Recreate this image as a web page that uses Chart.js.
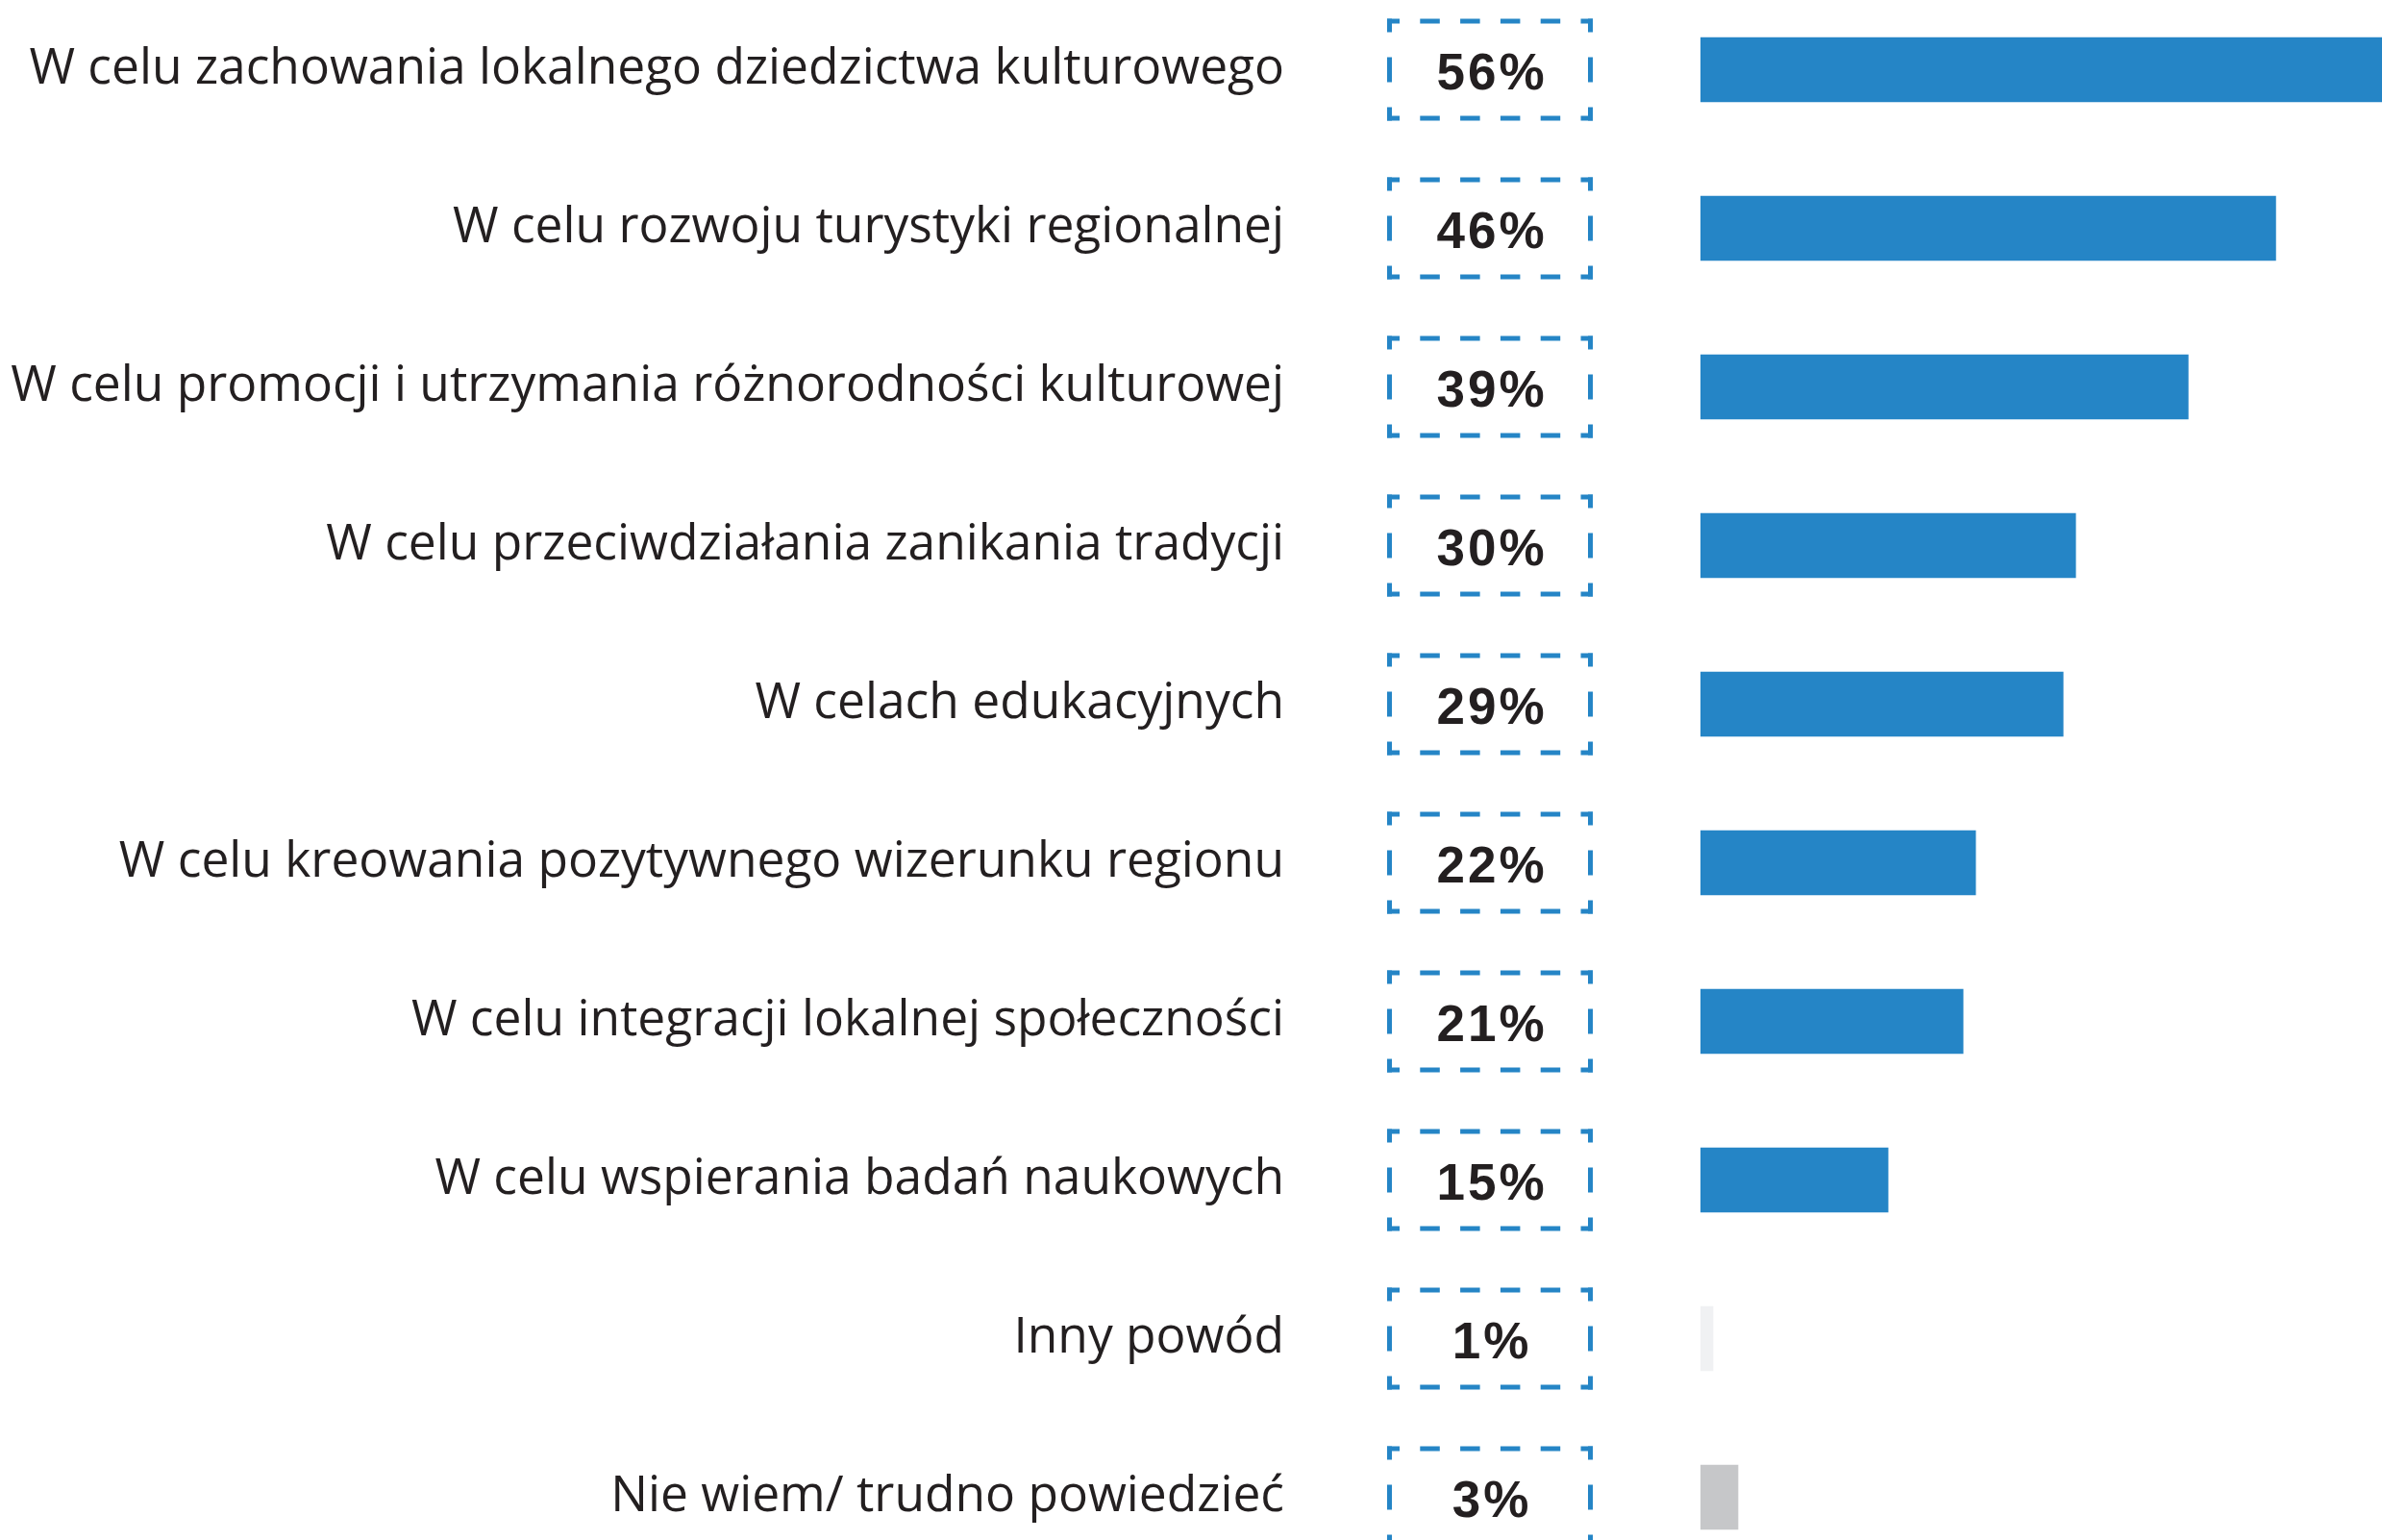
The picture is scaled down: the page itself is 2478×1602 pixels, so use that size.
<!DOCTYPE html>
<html lang="pl">
<head>
<meta charset="utf-8">
<title>Powody</title>
<script src="https://cdn.jsdelivr.net/npm/chart.js@4.4.1/dist/chart.umd.min.js"></script>
<style>
  html, body { margin: 0; padding: 0; background: #fff; overflow: hidden; }
  body { width: 2478px; height: 1602px; position: relative; }
  #chart { position: absolute; left: 0; top: -10px; }
</style>
</head>
<body>
<canvas id="chart" width="2478" height="1650"></canvas>
<script>
// Reasons, share of answers in %
const CATEGORIES = [
  'W celu zachowania lokalnego dziedzictwa kulturowego',
  'W celu rozwoju turystyki regionalnej',
  'W celu promocji i utrzymania różnorodności kulturowej',
  'W celu przeciwdziałania zanikania tradycji',
  'W celach edukacyjnych',
  'W celu kreowania pozytywnego wizerunku regionu',
  'W celu integracji lokalnej społeczności',
  'W celu wspierania badań naukowych',
  'Inny powód',
  'Nie wiem/ trudno powiedzieć'
];
const VALUES = [56, 46, 39, 30, 29, 22, 21, 15, 1, 3];

const BLUE = '#2585c6';
const BAR_COLORS = [BLUE, BLUE, BLUE, BLUE, BLUE, BLUE, BLUE, BLUE, '#f0f1f3', '#c6c7c9'];
const TEXT = '#231f20';

// ── Dashed value boxes in the middle column ─────────────────────────────────
const valueBoxes = {
  id: 'valueBoxes',
  afterDatasetsDraw(chart) {
    const ctx = chart.ctx;
    const meta = chart.getDatasetMeta(0);
    const cx = 1550, w = 214, h = 106, lw = 5;
    meta.data.forEach((bar, i) => {
      const x0 = cx - w / 2, y0 = bar.y - h / 2;
      ctx.save();
      ctx.strokeStyle = BLUE;
      ctx.lineWidth = lw;
      ctx.lineCap = 'butt';

      // top and bottom edges
      ctx.setLineDash([13, 21.3, 20.5, 21.3, 20.5, 21.3, 20.5, 21.3, 20.5, 21.3, 13]);
      [y0 + lw / 2, y0 + h - lw / 2].forEach(y => {
        ctx.beginPath();
        ctx.moveTo(x0, y);
        ctx.lineTo(x0 + w, y);
        ctx.stroke();
      });
      // left and right edges
      ctx.setLineDash([14, 26, 26, 26, 14]);
      [x0 + lw / 2, x0 + w - lw / 2].forEach(x => {
        ctx.beginPath();
        ctx.moveTo(x, y0);
        ctx.lineTo(x, y0 + h);
        ctx.stroke();
      });

      ctx.setLineDash([]);
      ctx.fillStyle = TEXT;
      ctx.font = 'bold 53px "Liberation Sans", Arial, sans-serif';
      ctx.letterSpacing = '3px';
      ctx.textAlign = 'center';
      ctx.textBaseline = 'middle';
      ctx.fillText(VALUES[i] + '%', cx + 2, bar.y + 6);
      ctx.restore();
    });
  }
};

new Chart(document.getElementById('chart'), {
  type: 'bar',
  data: {
    labels: CATEGORIES,
    datasets: [{
      data: VALUES,
      backgroundColor: BAR_COLORS,
      borderWidth: 0,
      barThickness: 67
    }]
  },
  options: {
    indexAxis: 'y',
    responsive: false,
    animation: false,
    layout: { padding: 0 },
    plugins: {
      legend: { display: false },
      tooltip: { enabled: false }
    },
    scales: {
      x: {
        display: false,
        min: 0,
        max: 54.5
      },
      y: {
        offset: true,
        grid: { display: false, drawTicks: false },
        border: { display: false },
        ticks: {
          color: TEXT,
          font: { family: 'Open Sans', size: 51.5 },
          padding: 433
        },
        afterFit(scale) {
          // fixed label column; the big tick padding must not eat vertical space
          scale.width = 1769;
          scale.paddingTop = 0;
          scale.paddingBottom = 0;
        }
      }
    }
  },
  plugins: [valueBoxes]
});
</script>
</body>
</html>
